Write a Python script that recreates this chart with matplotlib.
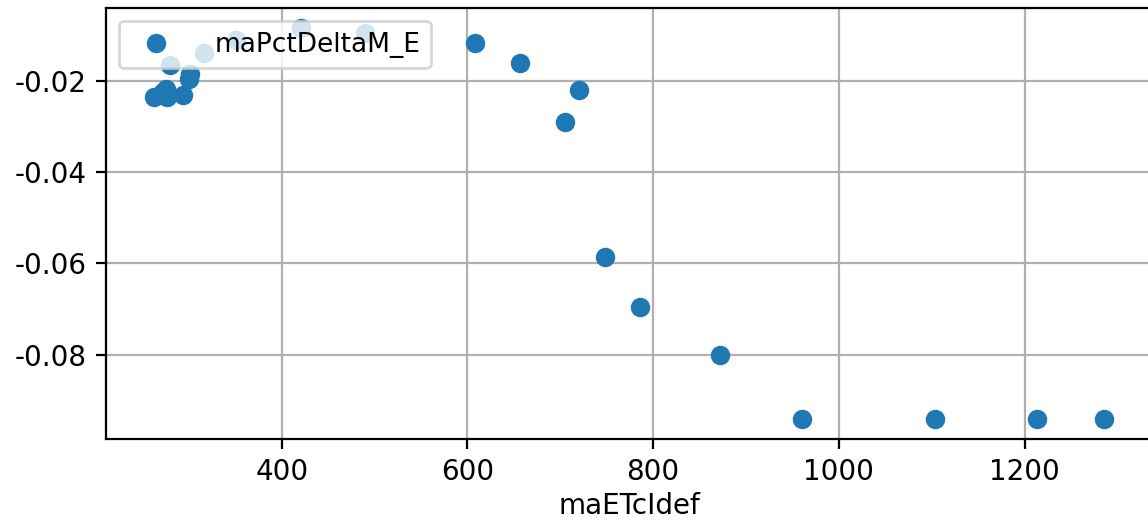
import matplotlib
matplotlib.use("Agg")
import matplotlib.pyplot as plt

plt.rcParams["axes.unicode_minus"] = False

# --- Donnees ---
maETcIdef = [262, 272, 275, 277, 294, 300, 301, 280, 316, 351,
             421, 490, 608, 657, 705, 720, 748, 786, 872, 960,
             1103, 1213, 1286]
maPctDeltaM_E = [-0.0235, -0.0224, -0.0218, -0.0237, -0.0231, -0.0196, -0.0185, -0.0167, -0.0139, -0.0112,
                 -0.0084, -0.0095, -0.0117, -0.0161, -0.0290, -0.0220, -0.0586, -0.0695, -0.0800, -0.0942,
                 -0.0942, -0.0942, -0.0942]

fig = plt.figure(figsize=(5.74, 2.6), dpi=200)
ax = fig.add_axes([106 / 1148, 1 - 439 / 520, 1046 / 1148, 431 / 520])

ax.plot(maETcIdef, maPctDeltaM_E, "o", label="maPctDeltaM_E", color="#1f77b4")
ax.set_xlabel("maETcIdef", labelpad=2)
ax.grid(True)
ax.legend(loc="upper left", fontsize=9.5, handletextpad=1.2)

fig.savefig("out.png", dpi=200)
